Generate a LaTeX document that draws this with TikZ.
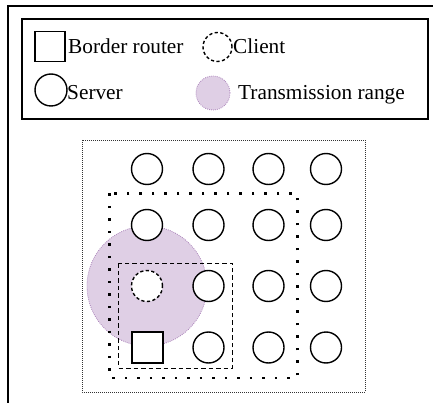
\documentclass[tikz,border=0pt]{standalone}
\usepackage{fontspec}
\setmainfont{Liberation Serif}
\definecolor{rangefill}{RGB}{223,207,229}
\definecolor{rangeline}{RGB}{170,130,185}
\tikzset{
  serverbox/.style={circle,draw,line width=1.4pt,fill=white,minimum size=31pt,inner sep=0pt},
  clientbox/.style={circle,draw,dash pattern=on 3.2pt off 2.4pt,line width=1.4pt,fill=white,minimum size=31pt,inner sep=0pt},
  routerbox/.style={rectangle,draw,line width=1.4pt,fill=white,minimum size=31pt,inner sep=0pt},
  rangedisk/.style={circle,draw=rangeline,fill=rangefill,dash pattern=on 0.8pt off 1.2pt,line width=0.8pt,inner sep=0pt},
  lbltext/.style={anchor=base west,inner sep=0pt,font=\fontsize{21.3}{24}\selectfont},
  bigdots/.style={line width=2.6pt,dash pattern=on 2.6pt off 9.9pt},
  smalldash/.style={line width=1.3pt,dash pattern=on 4.5pt off 3pt},
  finedots/.style={line width=0.9pt,draw=black!80,dash pattern=on 0.9pt off 1.1pt}
}
\begin{document}
\begin{tikzpicture}[x=1pt,y=-1pt]
\useasboundingbox (0,0) rectangle (433,403);
% outer frame (cut at right and bottom)
\draw[line width=1.5pt] (8,403) -- (8,6) -- (433,6);
% legend
\draw[line width=1.2pt] (22,19) rectangle (428,119);
\node[routerbox,minimum size=30pt] (lrouter) at (50,46.5) {};
\node[lbltext] (lrouterT) at (68,54) {Border router};
\node[clientbox,minimum size=29pt] (lclient) at (217.5,47) {};
\node[lbltext] (lclientT) at (233,54) {Client};
\node[serverbox,minimum size=32pt] (lserver) at (51,90) {};
\node[lbltext] (lserverT) at (67,100) {Server};
\node[rangedisk,minimum size=34pt] (lrange) at (213,93) {};
\node[lbltext] (lrangeT) at (238,100) {Transmission range};
% diagram frame
\draw[finedots] (82,140) rectangle (365,392);
% transmission range
\node[rangedisk,minimum size=120pt] (trange) at (147,286) {};
% grid of servers
\foreach \c/\x in {1/147,2/208.5,3/268.5,4/326}{
  \foreach \r/\y in {1/169,2/225,3/286,4/347.5}{
    \ifnum\c=1 \ifnum\r>2 \else
      \node[serverbox] (s\c\r) at (\x,\y) {};
    \fi\else
      \node[serverbox] (s\c\r) at (\x,\y) {};
    \fi
  }
}
\node[clientbox] (client) at (147,286) {};
\node[routerbox] (router) at (147.5,347.5) {};
% regions
\draw[bigdots] (109.3,193.3) rectangle (297.3,377.8);
\draw[smalldash] (118.5,263.3) rectangle (232.8,368.2);
\end{tikzpicture}
\end{document}
